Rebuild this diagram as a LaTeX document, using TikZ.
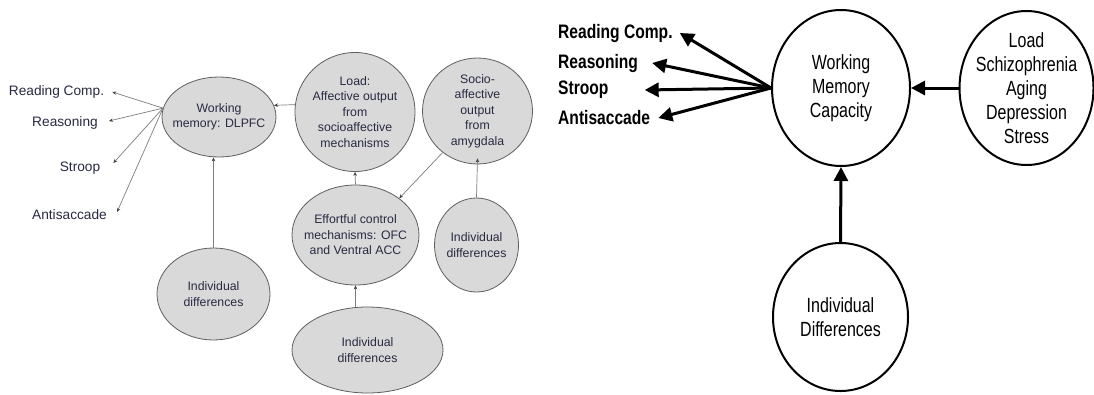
\documentclass[tikz,border=0pt]{standalone}
\usepackage{fontspec}
\setmainfont{Liberation Sans}
\newfontfamily\condfont[FakeStretch=0.78]{Liberation Sans}
\newfontfamily\condboldfont[FakeStretch=0.80]{Liberation Sans}
\usetikzlibrary{arrows.meta,shapes.geometric}

\definecolor{ellfill}{RGB}{217,217,217}
\definecolor{ellline}{RGB}{95,95,95}
\definecolor{lgtext}{RGB}{40,42,66}
\definecolor{lgarrow}{RGB}{125,125,125}

\tikzset{
  % left model: grey ellipses, thin grey arrows
  gell/.style={ellipse, draw=ellline, fill=ellfill, line width=0.8pt, inner sep=0pt},
  gtext/.style={inner sep=0pt, align=center, text=lgtext,
    font=\fontsize{12.3}{15.5}\selectfont},
  glabel/.style={inner sep=0pt, text=lgtext, font=\fontsize{13.7}{16}\selectfont},
  garrow/.style={draw=lgarrow, line width=0.7pt,
    -{Stealth[length=4pt,width=3.5pt,color=black!75]}},
  % right model: white circles, heavy black arrows
  bcirc/.style={ellipse, draw=black, fill=white, line width=2pt, inner sep=0pt},
  btext/.style={inner sep=0pt, align=center,
    font=\condfont\fontsize{20.5}{24}\selectfont},
  blabel/.style={inner sep=0pt, anchor=west,
    font=\condboldfont\bfseries\fontsize{19.5}{22}\selectfont},
  barrow/.style={draw=black, line width=3pt,
    -{Triangle[length=14pt,width=14pt]}},
}

\begin{document}
\begin{tikzpicture}[x=1pt,y=-1pt]
\useasboundingbox[fill=white] (0,0) rectangle (1094,394);

% ---------------- left model ----------------
\node[gell, minimum width=114pt, minimum height=80pt]  (wm)    at (219,117) {};
\node[gtext] (wmtxt) at (wm) {Working\\memory: DLPFC};

\node[gell, minimum width=113pt, minimum height=92pt]  (lid)   at (213.5,294) {};
\node[gtext] (lidtxt) at (lid) {Individual\\differences};

\node[gell, minimum width=120pt, minimum height=119pt] (load)  at (355,112) {};
\node[gtext] (loadtxt) at (load) {Load:\\Affective output\\from\\socioaffective\\mechanisms};

\node[gell, minimum width=110pt, minimum height=106pt] (socio) at (477.5,111) {};
\node[gtext] (sociotxt) at (socio) {Socio-\\affective\\output\\from\\amygdala};

\node[gell, minimum width=127pt, minimum height=100pt] (eff)   at (355.5,235) {};
\node[gtext] (efftxt) at (eff) {Effortful control\\mechanisms: OFC\\and Ventral ACC};

\node[gell, minimum width=84pt, minimum height=94pt]   (rid)   at (476.5,245) {};
\node[gtext] (ridtxt) at (rid) {Individual\\differences};

\node[gell, minimum width=151pt, minimum height=86pt]  (bid)   at (367.5,350) {};
\node[gtext] (bidtxt) at (bid) {Individual\\differences};

\node[glabel] (lrc) at (56.5,92)  {Reading Comp.};
\node[glabel] (lra) at (65,123)   {Reasoning};
\node[glabel] (lst) at (80,168)   {Stroop};
\node[glabel] (lan) at (69.5,215) {Antisaccade};

\draw[garrow] (wm.171) -- ([shift={(8,0)}]lrc.east);
\draw[garrow] (wm.171) -- ([shift={(11,-2)}]lra.east);
\draw[garrow] (wm.171) -- ([shift={(13,-5)}]lst.east);
\draw[garrow] (wm.171) -- ([shift={(10,-3)}]lan.east);

\draw[garrow] (load.173) -- (wm.12);
\draw[garrow] (lid.north) -- (lid.north |- wm.south);
\draw[garrow] (eff.north) -- (load.south);
\draw[garrow] (socio.230) -- (eff.40);
\draw[garrow] (rid.north) -- ([yshift=6]socio.south);
\draw[garrow] (bid.north -| eff.south) -- (eff.south);

% ---------------- right model ----------------
\node[bcirc, minimum width=138pt, minimum height=156pt] (wmc)  at (841,88) {};
\node[btext] (wmctxt) at (wmc) {Working\\Memory\\Capacity};

\node[bcirc, minimum width=134pt, minimum height=154pt] (rload) at (1026.5,88) {};
\node[btext] (rloadtxt) at (rload) {Load\\Schizophrenia\\Aging\\Depression\\Stress};

\node[bcirc, minimum width=135pt, minimum height=148pt] (rindiv) at (840.5,317) {};
\node[btext] (rindivtxt) at (rindiv) {Individual\\Differences};

\node[blabel] (rrc) at (558,33)  {Reading Comp.};
\node[blabel] (rra) at (558,63)  {Reasoning};
\node[blabel] (rst) at (558,90)  {Stroop};
\node[blabel] (ran) at (558,118) {Antisaccade};

\draw[barrow] (wmc.west) -- ([xshift=7]rrc.east);
\draw[barrow] (wmc.west) -- ([xshift=14]rra.east);
\draw[barrow] (wmc.west) -- ([xshift=36]rst.east);
\draw[barrow] (wmc.west) -- ([xshift=8]ran.east);

\draw[barrow] (rload.west) -- (wmc.east);
\draw[barrow] (rindiv.north) -- (wmc.south);
\end{tikzpicture}
\end{document}
